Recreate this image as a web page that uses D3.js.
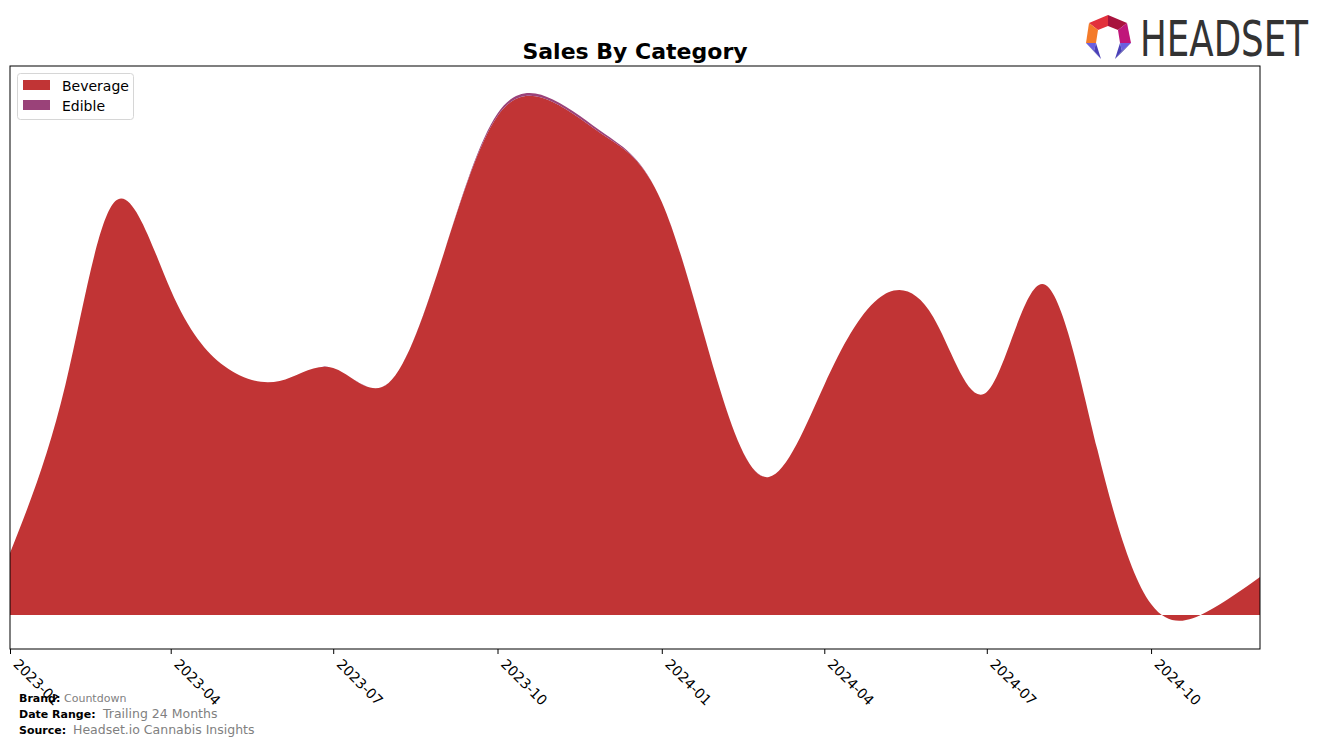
<!DOCTYPE html>
<html>
<head>
<meta charset="utf-8">
<script src="https://cdn.jsdelivr.net/npm/d3@7"></script>
<style>
  html, body { margin: 0; padding: 0; background: #ffffff; }
  svg { display: block; }
</style>
</head>
<body>
<svg id="chart" width="1324" height="746"></svg>
<script>
// ---- Data ----
const months = ["2023-01","2023-02","2023-03","2023-04","2023-05","2023-06","2023-07","2023-08","2023-09","2023-10","2023-11","2023-12",
                "2024-01","2024-02","2024-03","2024-04","2024-05","2024-06","2024-07","2024-08","2024-09","2024-10","2024-11","2024-12"];
const beverage = [6200, 23000, 41400, 32500, 24900, 23400, 24700, 23200, 36200, 49900, 51300, 47800,
                  41300, 23500, 13800, 23000, 31600, 29800, 22300, 33100, 16500, 1100, 300, 3800];
const edible   = [0, 0, 0, 0, 0, 0, 0, 0, 0, 250, 250, 200,
                  0, 0, 0, 0, 0, 0, 0, 0, 0, 0, 0, 0];
const seriesNames = ["Beverage", "Edible"];
const seriesColors = ["#c13435", "#9a4279"];
const tickLabels = ["2023-01","2023-04","2023-07","2023-10","2024-01","2024-04","2024-07","2024-10"];

// ---- Layout ----
const svg = d3.select("#chart");
const plot = {left: 10, right: 1260, top: 66, bottom: 649};
const parse = d3.timeParse("%Y-%m");
const dates = months.map(parse);

const x = d3.scaleTime()
  .domain([dates[0], dates[dates.length - 1]])
  .range([plot.left, plot.right]);
const y = d3.scaleLinear()
  .domain([-3400, 54900])
  .range([plot.bottom, plot.top]);

const rows = months.map((m, i) => ({date: dates[i], Beverage: beverage[i], Edible: edible[i]}));
const stacked = d3.stack().keys(seriesNames)(rows);

svg.append("defs").append("clipPath").attr("id", "clip")
  .append("rect")
  .attr("x", plot.left).attr("y", plot.top)
  .attr("width", plot.right - plot.left).attr("height", plot.bottom - plot.top);

const area = d3.area()
  .x(d => x(d.data.date))
  .y0(d => y(d[0]))
  .y1(d => y(d[1]))
  .curve(d3.curveNatural);

svg.append("g").attr("clip-path", "url(#clip)")
  .selectAll("path")
  .data(stacked)
  .join("path")
  .attr("d", area)
  .attr("fill", (d, i) => seriesColors[i]);

// frame
svg.append("rect")
  .attr("x", plot.left).attr("y", plot.top)
  .attr("width", plot.right - plot.left).attr("height", plot.bottom - plot.top)
  .attr("fill", "none").attr("stroke", "#000").attr("stroke-width", 1);

// x axis
const tickDates = tickLabels.map(parse);
const xAxis = d3.axisBottom(x)
  .tickValues(tickDates)
  .tickFormat(d3.timeFormat("%Y-%m"))
  .tickSize(5)
  .tickSizeOuter(0);
const gx = svg.append("g")
  .attr("transform", `translate(0,${plot.bottom})`)
  .call(xAxis);
gx.select(".domain").remove();
gx.selectAll(".tick line").attr("stroke", "#000");
gx.selectAll(".tick text")
  .attr("font-family", "DejaVu Sans")
  .attr("font-size", 14)
  .attr("fill", "#000")
  .attr("text-anchor", "start")
  .attr("x", 0).attr("y", 0).attr("dy", 0)
  .attr("transform", "translate(2,16) rotate(45)");

// title
svg.append("text")
  .attr("x", (plot.left + plot.right) / 2)
  .attr("y", 59)
  .attr("text-anchor", "middle")
  .attr("font-family", "DejaVu Sans")
  .attr("font-weight", "bold")
  .attr("font-size", 22)
  .text("Sales By Category");

// legend
const lg = svg.append("g");
lg.append("rect")
  .attr("x", 17.5).attr("y", 73.5).attr("width", 116).attr("height", 46)
  .attr("rx", 3).attr("fill", "#fff").attr("fill-opacity", 0.8)
  .attr("stroke", "#d6d6d6");
seriesNames.forEach((name, i) => {
  lg.append("rect")
    .attr("x", 23).attr("y", 80 + i * 20).attr("width", 27).attr("height", 10)
    .attr("fill", seriesColors[i]);
  lg.append("text")
    .attr("x", 62).attr("y", 91 + i * 20)
    .attr("font-family", "DejaVu Sans").attr("font-size", 14)
    .attr("fill", "#000")
    .text(name);
});

// footer
const footer = [
  {label: "Brand:", value: "Countdown", y: 702, vx: 64, vs: 11},
  {label: "Date Range:", value: "Trailing 24 Months", y: 718, vx: 103, vs: 12.5},
  {label: "Source:", value: "Headset.io Cannabis Insights", y: 734, vx: 73, vs: 12.5}
];
footer.forEach(f => {
  svg.append("text").attr("x", 19).attr("y", f.y)
    .attr("font-family", "DejaVu Sans").attr("font-weight", "bold").attr("font-size", 11)
    .attr("fill", "#000").text(f.label);
  svg.append("text").attr("x", f.vx).attr("y", f.y)
    .attr("font-family", "DejaVu Sans").attr("font-size", f.vs)
    .attr("fill", "#808080").text(f.value);
});

// logo
const logo = svg.append("g");
const P = {
  T: [1108, 15], UR: [1127, 23], R: [1131, 43], UL: [1089, 23], L: [1086, 43],
  iT: [1108, 26], iUR: [1118, 30], iR: [1120, 43], iUL: [1098, 30], iL: [1096, 43],
  lm: [1094, 51], rm: [1122, 51], lt: [1101, 59], rt: [1115, 59]
};
const facets = [
  {pts: ["UL","T","iT","iUL"], c: "#e2313c"},
  {pts: ["T","UR","iUR","iT"], c: "#a8123d"},
  {pts: ["UR","R","iR","iUR"], c: "#c0167a"},
  {pts: ["UL","iUL","iL","L"], c: "#f47b2a"},
  {pts: ["L","iL","lm"], c: "#6b5fe0"},
  {pts: ["L","lm","lt"], c: "#2f2c8e"},
  {pts: ["iL","lm","lt"], c: "#4a40b8"},
  {pts: ["R","iR","rm"], c: "#6b5fe0"},
  {pts: ["R","rm","rt"], c: "#2f2c8e"},
  {pts: ["iR","rm","rt"], c: "#4a40b8"}
];
facets.forEach(f => {
  logo.append("polygon")
    .attr("points", f.pts.map(k => P[k].join(",")).join(" "))
    .attr("fill", f.c);
});
// HEADSET wordmark: condensed horizontally via transform so its real box stays in the page
const logoText = logo.append("text")
  .attr("x", 0).attr("y", 0)
  .attr("font-family", "DejaVu Sans")
  .attr("font-size", 49)
  .attr("fill", "#333333")
  .text("HEADSET");
const natW = logoText.node().getComputedTextLength();
logoText.attr("transform", `translate(1140,56) scale(${168 / natW},1)`);
</script>
</body>
</html>
